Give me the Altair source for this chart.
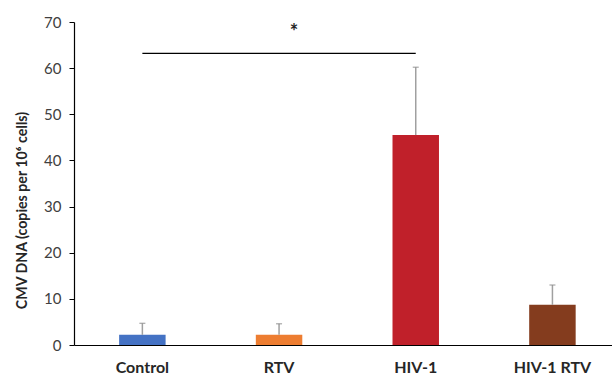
import altair as alt
import pandas as pd

# Group labels, mean CMV DNA and the upper error of each group
groups = ["Control", "RTV", "HIV-1", "HIV-1 RTV"]
means = [2.2, 2.2, 45.5, 8.7]
errors = [2.5, 2.4, 14.7, 4.3]
colors = ["#4472C4", "#ED7D31", "#C0202A", "#843C1E"]

# Significance bracket between Control and HIV-1
bracket_from = ["Control"]
bracket_to = ["HIV-1"]
bracket_level = [63.2]
star_text = ["*"]
star_group = ["RTV"]
star_level = [67.6]

df = pd.DataFrame({"group": groups, "mean": means, "err": errors})
df["upper"] = df["mean"] + df["err"]

x_scale = alt.Scale(domain=groups, paddingInner=0.66, paddingOuter=0.298,
                    align=0.554, round=False)
y_scale = alt.Scale(domain=[0, 70], nice=False)

x_enc = alt.X("group:N", scale=x_scale, sort=groups, title=None,
              axis=alt.Axis(labelAngle=0, ticks=False, labelPadding=14,
                            labelFont="Lato", labelFontWeight="bold",
                            labelFontSize=16, labelColor="#262626",
                            domainColor="black", domainWidth=1.2))

bars = alt.Chart(df).mark_bar().encode(
    x=x_enc,
    y=alt.Y("mean:Q", scale=y_scale,
            title="CMV DNA (copies per 10\u2076 cells)",
            axis=alt.Axis(values=list(range(0, 71, 10)), grid=False,
                          tickSize=5, tickColor="black", domainColor="black",
                          domainWidth=1.2, labelFont="Lato", labelFontSize=15,
                          labelColor="#404040", labelPadding=8,
                          titleFont="Lato", titleFontWeight="bold",
                          titleFontSize=14.2, titleColor="#262626",
                          titlePadding=14, titleY=188)),
    color=alt.Color("group:N", scale=alt.Scale(domain=groups, range=colors),
                    legend=None),
)

err_rule = alt.Chart(df).mark_rule(color="#A0A0A0", strokeWidth=1.5).encode(
    x=alt.X("group:N", scale=x_scale, sort=groups),
    y=alt.Y("mean:Q", scale=y_scale),
    y2="upper:Q",
)

err_cap = alt.Chart(df).mark_tick(color="#8C8C8C", thickness=1.3, size=6,
                                  orient="horizontal").encode(
    x=alt.X("group:N", scale=x_scale, sort=groups),
    y=alt.Y("upper:Q", scale=y_scale),
)

bracket_df = pd.DataFrame({"a": bracket_from, "b": bracket_to, "lvl": bracket_level})
bracket = alt.Chart(bracket_df).mark_rule(color="black", strokeWidth=1.2).encode(
    x=alt.X("a:N", scale=x_scale),
    x2="b:N",
    y=alt.Y("lvl:Q", scale=y_scale),
)

star_df = pd.DataFrame({"g": star_group, "lvl": star_level, "t": star_text})
star = alt.Chart(star_df).mark_text(font="Lato", fontSize=20, fontWeight="bold",
                                    color="#262626", dx=15, baseline="middle").encode(
    x=alt.X("g:N", scale=x_scale),
    y=alt.Y("lvl:Q", scale=y_scale),
    text="t:N",
)

chart = alt.layer(bars, err_rule, err_cap, bracket, star).properties(
    width=538, height=323,
    autosize=alt.AutoSizeParams(type="none"),
    padding={"left": 74, "top": 22, "right": 0, "bottom": 32},
    background="white",
).configure_view(stroke=None)

chart.save("out.html", embed_options={"renderer": "svg", "actions": False})
